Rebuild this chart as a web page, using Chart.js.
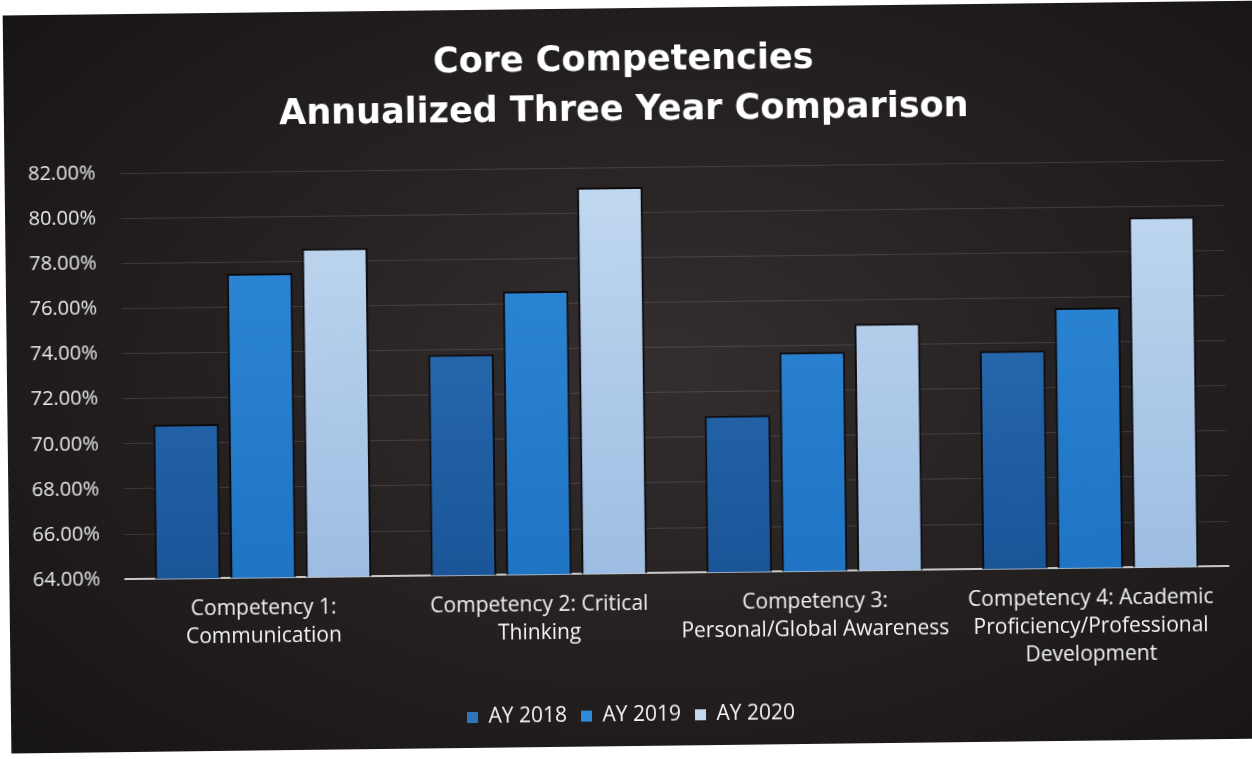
<!DOCTYPE html>
<html>
<head>
<meta charset="utf-8">
<script src="https://cdn.jsdelivr.net/npm/chart.js@4.4.1/dist/chart.umd.min.js"></script>
<style>
  html, body { margin: 0; padding: 0; background: #ffffff; overflow: hidden; }
  body { width: 1252px; height: 759px; position: relative; }
  #panel {
    position: absolute; left: 7px; top: 8px; width: 1260px; height: 738px;
    transform: rotate(-0.68deg);
    background: radial-gradient(ellipse 70% 75% at 52% 48%, #342e2e 0%, #272222 45%, #171414 100%);
  }
</style>
</head>
<body>
<div id="panel"><canvas id="chart"></canvas></div>
<script>
const categories = [
    ['Competency 1:', 'Communication'],
    ['Competency 2: Critical', 'Thinking'],
    ['Competency 3:', 'Personal/Global Awareness'],
    ['Competency 4: Academic', 'Proficiency/Professional', 'Development']
];
const seriesNames = ['AY 2018', 'AY 2019', 'AY 2020'];
const ay2018 = [70.84, 73.78, 70.93, 73.66];
const ay2019 = [77.48, 76.55, 73.70, 75.53];
const ay2020 = [78.56, 81.12, 74.93, 79.51];
const yMin = 64, yMax = 82, yStep = 2;

// top / bottom colours of each bar gradient
const SHADES = [
    ['#2f75bd', '#1a5598'],
    ['#2f8ad8', '#1f74c4'],
    ['#c2d9f0', '#9dbde2']
];
const FONT = "'Open Sans', 'DejaVu Sans', sans-serif";

function barFill(idx) {
    return (c) => {
        const area = c.chart.chartArea;
        if (!area) return SHADES[idx][0];
        const g = c.chart.ctx.createLinearGradient(0, area.top, 0, area.bottom);
        g.addColorStop(0, SHADES[idx][0]);
        g.addColorStop(1, SHADES[idx][1]);
        return g;
    };
}

const values = [ay2018, ay2019, ay2020];

new Chart(document.getElementById('chart'), {
    type: 'bar',
    data: {
        labels: categories,
        datasets: seriesNames.map((name, i) => ({
            label: name,
            data: values[i],
            backgroundColor: barFill(i),
            borderColor: 'rgba(8, 8, 12, 0.9)',
            borderWidth: { top: 2, left: 2, right: 2, bottom: 0 },
            categoryPercentage: 0.82,
            barPercentage: 0.87
        }))
    },
    options: {
        responsive: true,
        maintainAspectRatio: false,
        animation: false,
        layout: { padding: { left: 21, right: 41, top: 0, bottom: 10 } },
        scales: {
            x: {
                grid: { display: false, drawTicks: false },
                border: { display: true, color: '#c9c9c9', width: 2 },
                ticks: {
                    color: '#f2f2f2',
                    padding: 17,
                    maxRotation: 0,
                    autoSkip: false,
                    font: { family: FONT, size: 21, lineHeight: 1.33 }
                }
            },
            y: {
                min: yMin,
                max: yMax,
                grid: { color: 'rgba(255, 255, 255, 0.12)', lineWidth: 1, drawTicks: false },
                border: { display: false },
                // labels ~70px wide plus the 25px gap to the plot
                afterFit: (s) => { s.width = 95; },
                ticks: {
                    stepSize: yStep,
                    color: '#e8e8e8',
                    padding: 25,
                    font: { family: FONT, size: 20 },
                    callback: (v) => v.toFixed(2) + '%'
                }
            }
        },
        plugins: {
            title: {
                display: true,
                text: ['Core Competencies', 'Annualized Three Year Comparison'],
                color: '#ffffff',
                font: { family: "'DejaVu Sans', sans-serif", size: 35, weight: 'bold', lineHeight: 1.43 },
                padding: { top: 28, bottom: 31 }
            },
            legend: {
                position: 'bottom',
                labels: {
                    color: '#f2f2f2',
                    boxWidth: 11,
                    boxHeight: 11,
                    padding: 14,
                    font: { family: FONT, size: 21 },
                    generateLabels: (chart) => Chart.defaults.plugins.legend.labels.generateLabels(chart)
                        .map((item, i) => Object.assign(item, { fillStyle: SHADES[i][0], strokeStyle: SHADES[i][1], lineWidth: 0 }))
                }
            },
            tooltip: { enabled: false }
        }
    }
});
</script>
</body>
</html>
